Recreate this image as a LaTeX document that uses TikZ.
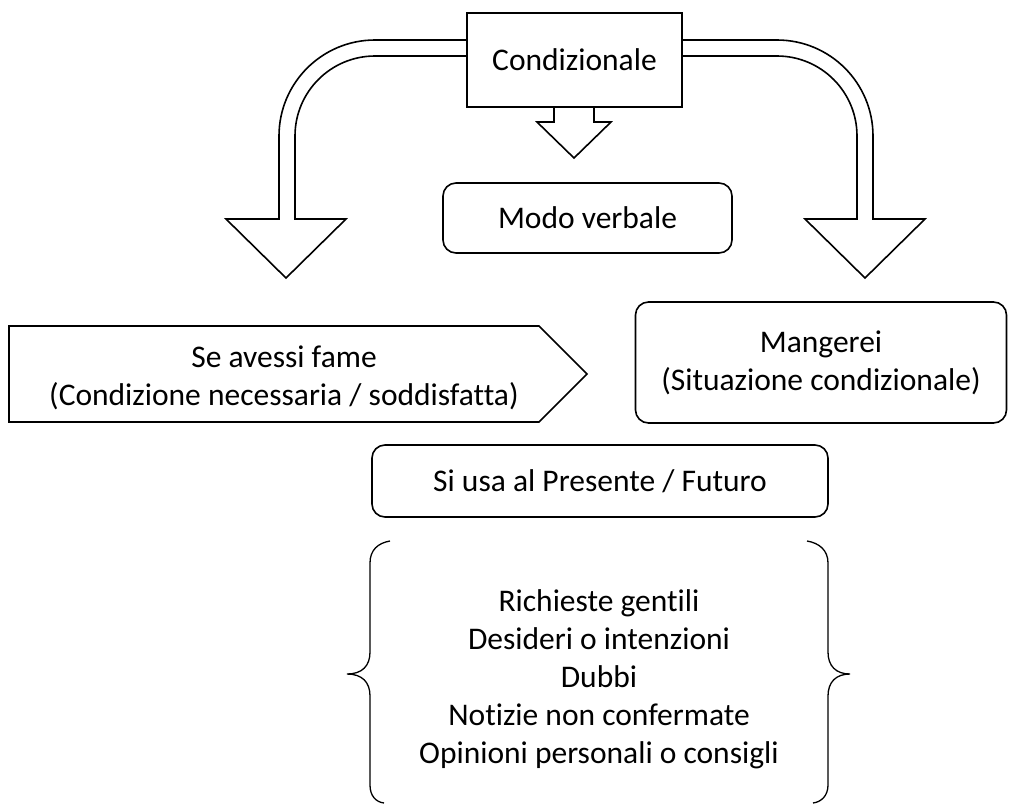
\documentclass[tikz,border=0pt]{standalone}
\usepackage{fontspec}
\setmainfont[Ligatures={NoCommon}]{Carlito}
\begin{document}
\begin{tikzpicture}[x=1pt,y=-1pt, line join=miter,
  lbl/.style={align=center, inner sep=0pt, font=\fontsize{31.5}{38}\selectfont},
  box/.style={lbl, draw, line width=1.6pt, fill=white},
  rbox/.style={box, rounded corners=13pt},
  blockarrow/.style={draw, line width=1.6pt, fill=white},
  bracestyle/.style={draw, line width=1.3pt}]
\fill[white] (0,0) rectangle (1009,804);
\useasboundingbox (0,0) rectangle (1009,804);

% curved block arrows
\draw[blockarrow] (472,40) -- (375,40) arc[start angle=270, end angle=180, radius=96]
  -- (279,219) -- (226,219) -- (286,278) -- (346,219) -- (295,219) -- (295,136)
  arc[start angle=180, end angle=270, radius=80] -- (472,56);
\draw[blockarrow] (677,40) -- (777,40) arc[start angle=270, end angle=360, radius=96]
  -- (873,219) -- (925,219) -- (865,278) -- (805,219) -- (857,219) -- (857,136)
  arc[start angle=360, end angle=270, radius=80] -- (677,56);
\draw[blockarrow] (554,102) -- (554,122) -- (537,122) -- (574,158) -- (611,122) -- (594,122) -- (594,102);

% boxes
\node[box, minimum width=215pt, minimum height=94pt] (cond) at (574.5,60) {Condizionale};
\node[rbox, minimum width=289pt, minimum height=70pt] (modo) at (587.5,218) {Modo verbale};
\draw[blockarrow] (9,326) -- (539,326) -- (587,374) -- (539,422) -- (9,422) -- cycle;
\node[lbl] (se) at (284,378) {Se avessi fame\\(Condizione necessaria / soddisfatta)};
\node[rbox, minimum width=371pt, minimum height=121pt] (mang) at (821,362.5) {Mangerei\\(Situazione condizionale)};
\node[rbox, minimum width=456pt, minimum height=72pt] (usa) at (600,481) {Si usa al Presente / Futuro};

% list with braces
\node[lbl] (list) at (599,679) {Richieste gentili\\Desideri o intenzioni\\Dubbi\\Notizie non confermate\\Opinioni personali o consigli};
\draw[bracestyle] (390,541) .. controls (378,543) and (370,550) .. (370,563)
  -- (370,652) .. controls (370,666) and (362,674) .. (347,674)
  .. controls (362,674) and (370,682) .. (370,696)
  -- (370,785) .. controls (370,796) and (376,802) .. (384,803);
\draw[bracestyle] (807,541) .. controls (819,543) and (828,550) .. (828,563)
  -- (828,652) .. controls (828,666) and (836,674) .. (850,674)
  .. controls (836,674) and (828,682) .. (828,696)
  -- (828,785) .. controls (828,796) and (821,802) .. (813,803);
\end{tikzpicture}
\end{document}
